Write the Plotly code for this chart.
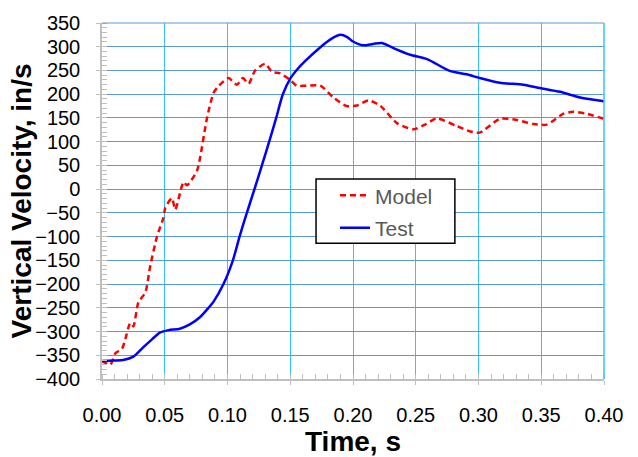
import plotly.graph_objects as go

# Test (blue solid)
test_t = [0.0, 0.010, 0.017, 0.025, 0.033, 0.040, 0.0464, 0.053, 0.062, 0.070, 0.0780, 0.0849,
          0.0889, 0.0968, 0.1043, 0.1096, 0.1154, 0.1215, 0.1274, 0.1332, 0.1388, 0.1441, 0.150,
          0.1555, 0.1620, 0.174, 0.183, 0.190, 0.195, 0.20, 0.208, 0.216, 0.223,
          0.235, 0.2456, 0.259, 0.277, 0.2905, 0.301, 0.317, 0.3357, 0.349, 0.365, 0.381, 0.40]
test_v = [-362, -361, -360, -353, -333, -316, -302, -297, -294, -285, -270, -250,
          -237, -200, -150, -100, -50, 0, 50, 100, 150, 200, 233,
          252, 270, 299, 317, 325, 321, 311, 303, 306, 308,
          294, 283, 274, 249, 242, 234, 224, 220, 213, 205, 193, 185]

# Model (red dashed)
model_t = [0.0, 0.0066, 0.0106, 0.016, 0.0186, 0.0225, 0.025, 0.029, 0.0345, 0.0385, 0.0438, 0.049,
           0.0504, 0.0557, 0.0584, 0.065, 0.0677, 0.0756, 0.0783, 0.0836, 0.0889, 0.0929, 0.1008,
           0.1075, 0.1123, 0.1168, 0.122, 0.130, 0.1354, 0.142, 0.150, 0.155, 0.163, 0.174,
           0.1844, 0.195, 0.203, 0.2123, 0.2216, 0.235, 0.248, 0.2574, 0.2667, 0.2826, 0.293,
           0.301, 0.317, 0.330, 0.3438, 0.3544, 0.3677, 0.3755, 0.386, 0.40]
model_v = [-362, -370, -346, -336, -316, -282, -289, -238, -218, -161, -100, -60,
           -39, -19, -43, 15, 8, 38, 68, 149, 203, 217, 234,
           220, 234, 222, 250, 264, 247, 244, 230, 218, 218, 218,
           193, 175, 176, 187, 176, 139, 126, 136, 149, 133, 122,
           119, 148, 146, 137, 136, 159, 163, 159, 148]

x_ticks = [0.0, 0.05, 0.10, 0.15, 0.20, 0.25, 0.30, 0.35, 0.40]
x_labels = ["0.00", "0.05", "0.10", "0.15", "0.20", "0.25", "0.30", "0.35", "0.40"]

fig = go.Figure()
fig.add_trace(go.Scatter(x=model_t, y=model_v, mode="lines", name="Model",
                         line=dict(color="#ff0000", width=2.5, dash="6px,4px", shape="spline", smoothing=0.6),
                         legendgroup="m"))
fig.add_trace(go.Scatter(x=test_t, y=test_v, mode="lines", name="Test",
                         line=dict(color="#0000ff", width=2.5, shape="spline", smoothing=0.7),
                         legendgroup="t"))

font = "Liberation Sans, Arial, sans-serif"
fig.update_layout(
    width=638, height=457,
    margin=dict(l=102, r=34, t=18, b=69),
    paper_bgcolor="white", plot_bgcolor="white",
    font=dict(family=font, size=20, color="black"),
    showlegend=True,
    legend=dict(x=0.4642, y=0.5725, xanchor="left", yanchor="top",
                borderwidth=0, bgcolor="rgba(0,0,0,0)",
                font=dict(family=font, size=21, color="#595959"),
                traceorder="grouped", tracegroupgap=2),
    xaxis=dict(range=[0, 0.40], tickvals=x_ticks, ticktext=x_labels,
               showgrid=True, gridcolor="#33c3f5", gridwidth=1.2,
               showline=True, linecolor="#bfbfbf", linewidth=1.5,
               ticks="outside", ticklen=4, tickcolor="#bfbfbf", ticklabelstandoff=13,
               minor=dict(dtick=0.01, ticks="inside", ticklen=5, tickcolor="#bfbfbf", showgrid=False),
               zeroline=False,
               title=dict(text="<b>Time, s</b>", font=dict(size=28, family=font), standoff=0)),
    yaxis=dict(range=[-400, 350], dtick=50,
               showgrid=True, gridcolor="#5b9bd5", gridwidth=1.2,
               showline=True, linecolor="#bfbfbf", linewidth=1.5,
               ticks="outside", ticklen=4, tickcolor="#bfbfbf", ticklabelstandoff=12,
               minor=dict(dtick=10, ticks="inside", ticklen=5, tickcolor="#bfbfbf", showgrid=False),
               zeroline=False),
)
fig.add_annotation(text="<b>Vertical Velocity, in/s</b>", textangle=-90,
                   xref="paper", yref="paper", x=(21 - 101.7) / 502.6, y=0.5,
                   xanchor="center", yanchor="middle", showarrow=False,
                   font=dict(size=28, family=font, color="black"))
# top and right plot borders
fig.add_shape(type="line", xref="paper", yref="paper", x0=0, x1=1, y0=1, y1=1,
              line=dict(color="#5b9bd5", width=1.2))
fig.add_shape(type="line", xref="paper", yref="paper", x0=1, x1=1, y0=0, y1=1,
              line=dict(color="#33c3f5", width=1.5))
# legend frame
fig.add_shape(type="rect", xref="paper", yref="paper",
              x0=(316 - 101.7) / 502.6, x1=(455 - 101.7) / 502.6,
              y0=(388.3 - 247) / 370.8, y1=(388.3 - 180) / 370.8,
              line=dict(color="black", width=1.5), fillcolor="white", layer="above")

fig.write_html("out.html")
